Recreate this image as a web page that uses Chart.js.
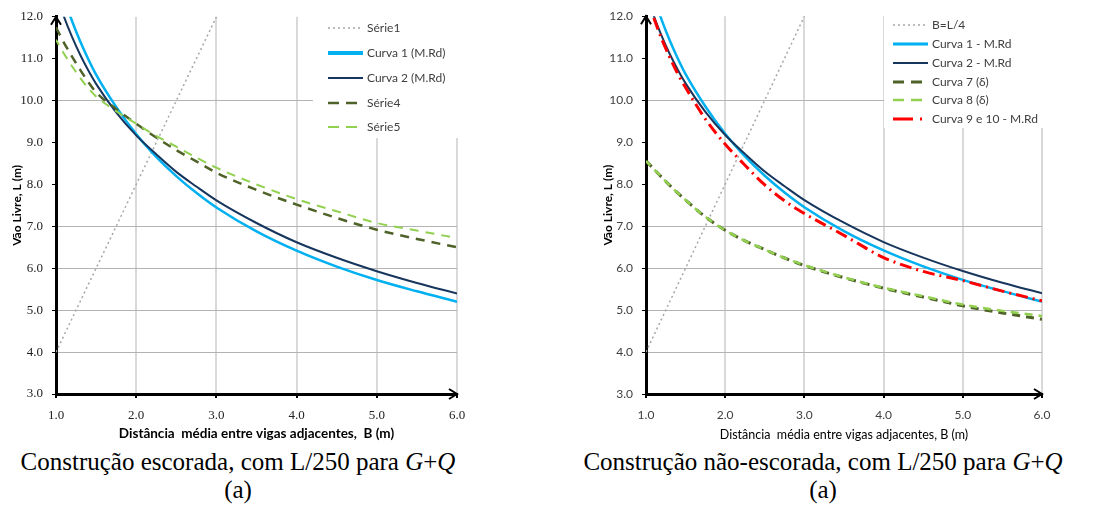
<!DOCTYPE html>
<html>
<head>
<meta charset="utf-8">
<script src="https://cdn.jsdelivr.net/npm/chart.js@4.4.1/dist/chart.umd.min.js"></script>
<style>
  body { margin: 0; background: #fff; width: 1098px; height: 508px; overflow: hidden; position: relative; }
  .box { position: absolute; top: 0; height: 448px; }
  .cap { position: absolute; font-family: "Liberation Serif", "Times New Roman", serif; font-size: 25px; line-height: 28px; text-align: center; color: #000; white-space: nowrap; }
</style>
</head>
<body>
<div class="box" style="left:0px; width:480px;"><canvas id="chartA"></canvas></div>
<div class="box" style="left:560px; width:502px;"><canvas id="chartB"></canvas></div>
<div class="cap" style="left:0px; width:476px; top:448px;">Construção escorada, com L/250 para <i>G</i>+<i>Q</i><br>(a)</div>
<div class="cap" style="left:580px; width:486px; top:448px;">Construção não-escorada, com L/250 para <i>G</i>+<i>Q</i><br>(a)</div>
<script>
// distância média entre vigas, B (m)
const spanB = [1.0, 1.1, 1.2, 1.3, 1.4, 1.5, 1.75, 2.0, 2.25, 2.5, 2.75, 3.0, 3.5, 4.0, 4.5, 5.0, 5.5, 6.0];

// vão livre, L (m)
const curva1 = [13.1, 12.45, 11.9, 11.42, 11.0, 10.62, 9.85, 9.2, 8.66, 8.2, 7.8, 7.45, 6.88, 6.42, 6.04, 5.72, 5.45, 5.2];
const curva2 = [12.55, 12.0, 11.52, 11.1, 10.73, 10.4, 9.72, 9.17, 8.72, 8.3, 7.95, 7.62, 7.08, 6.62, 6.25, 5.93, 5.65, 5.4];
const serie4 = [11.75, 11.38, 11.05, 10.74, 10.45, 10.2, 9.8, 9.45, 9.12, 8.82, 8.55, 8.28, 7.87, 7.52, 7.2, 6.92, 6.7, 6.5];
const serie5 = [11.45, 11.12, 10.82, 10.55, 10.3, 10.1, 9.75, 9.45, 9.16, 8.9, 8.64, 8.4, 8.0, 7.65, 7.36, 7.08, 6.9, 6.72];
const curva7 = [8.55, 8.36, 8.16, 7.97, 7.79, 7.62, 7.22, 6.9, 6.65, 6.44, 6.24, 6.06, 5.77, 5.52, 5.31, 5.1, 4.93, 4.78];
const curva8 = [8.55, 8.36, 8.16, 7.97, 7.79, 7.62, 7.22, 6.9, 6.65, 6.44, 6.24, 6.07, 5.78, 5.53, 5.33, 5.13, 4.98, 4.86];
const curva910 = [12.5, 11.95, 11.45, 11.02, 10.63, 10.3, 9.55, 8.95, 8.45, 7.98, 7.6, 7.3, 6.78, 6.25, 5.92, 5.7, 5.45, 5.22];

// B = L/4
const lineBX = [1.0, 3.0];
const lineBY = [4.0, 12.0];

const xTicks = [1, 2, 3, 4, 5, 6];
const yTicks = [3, 4, 5, 6, 7, 8, 9, 10, 11, 12];
const yGridShown = [4, 5, 6, 7, 10];

const labelsA = ['Série1', 'Curva 1 (M.Rd)', 'Curva 2 (M.Rd)', 'Série4', 'Série5'];
const labelsB = ['B=L/4', 'Curva 1 - M.Rd', 'Curva 2 - M.Rd', 'Curva 7 (δ)', 'Curva 8 (δ)', 'Curva 9 e 10 - M.Rd'];

function pts(xs, ys) {
  return xs.map((x, i) => ({ x: x, y: ys[i] }));
}

const sansFont = 'Lato, "Open Sans", sans-serif';

// white legend box inside the plot + legend entries
const boxLegend = {
  id: 'boxLegend',
  beforeDatasetsDraw(chart, args, o) {
    const ctx = chart.ctx, ca = chart.chartArea;
    ctx.save();
    ctx.fillStyle = '#fff';
    ctx.fillRect(o.left, ca.top - 2, chart.width - o.left, o.bottom - ca.top + 2);
    ctx.restore();
  },
  afterDatasetsDraw(chart, args, o) {
    const ctx = chart.ctx;
    ctx.save();
    chart.data.datasets.forEach((ds, i) => {
      const y = o.rows[i];
      ctx.beginPath();
      ctx.strokeStyle = ds.borderColor;
      ctx.lineWidth = ds.legendWidth || ds.borderWidth;
      ctx.setLineDash(ds.legendDash || ds.borderDash || []);
      ctx.moveTo(o.x0, y);
      ctx.lineTo(o.x1, y);
      ctx.stroke();
      ctx.setLineDash([]);
      ctx.fillStyle = '#404040';
      ctx.font = '12px ' + sansFont;
      ctx.textBaseline = 'middle';
      ctx.textAlign = 'left';
      ctx.fillText(ds.label, o.x1 + 4, y);
    });
    ctx.restore();
  }
};

// arrow heads at the ends of both axes
const axisArrows = {
  id: 'axisArrows',
  afterDraw(chart) {
    const ctx = chart.ctx, ca = chart.chartArea;
    ctx.save();
    ctx.strokeStyle = '#000';
    ctx.lineWidth = 2;
    ctx.beginPath();
    ctx.moveTo(ca.left - 5, ca.top + 8);
    ctx.lineTo(ca.left, ca.top);
    ctx.lineTo(ca.left + 5, ca.top + 8);
    ctx.moveTo(ca.right - 8, ca.bottom - 5);
    ctx.lineTo(ca.right, ca.bottom);
    ctx.lineTo(ca.right - 8, ca.bottom + 5);
    ctx.stroke();
    ctx.restore();
  }
};

function makeChart(id, datasets, cfg) {
  // later series are painted on top, like the spreadsheet did
  datasets.forEach((ds, i) => { ds.order = 20 - i; });
  return new Chart(document.getElementById(id), {
    type: 'line',
    data: { datasets: datasets },
    plugins: [boxLegend, axisArrows],
    options: {
      responsive: true,
      maintainAspectRatio: false,
      animation: false,
      layout: { padding: { top: 16, right: cfg.padRight, left: 0, bottom: 0 } },
      elements: { point: { radius: 0 }, line: { cubicInterpolationMode: 'monotone', borderCapStyle: 'butt' } },
      plugins: {
        legend: { display: false },
        tooltip: { enabled: false },
        boxLegend: cfg.legend
      },
      scales: {
        x: {
          type: 'linear', min: 1, max: 6,
          afterBuildTicks: s => { s.ticks = xTicks.map(v => ({ value: v })); },
          afterFit: s => { s.height = 54; },
          border: { color: '#000', width: 3 },
          grid: { color: '#D9D9D9', lineWidth: 2, tickColor: '#000', tickLength: 4 },
          ticks: { padding: 10, color: cfg.tickColor, font: cfg.tickFont, callback: v => v.toFixed(1), maxRotation: 0 },
          title: { display: true, text: cfg.xTitle, color: '#000', font: cfg.xTitleFont, padding: { top: 2, bottom: 6 } }
        },
        y: {
          type: 'linear', min: 3, max: 12,
          afterBuildTicks: s => { s.ticks = yTicks.map(v => ({ value: v })); },
          afterFit: s => { s.width = cfg.yWidth; },
          border: { color: '#000', width: 3 },
          grid: {
            color: c => (c.tick && yGridShown.includes(c.tick.value)) ? '#B3B3B3' : 'rgba(0,0,0,0)',
            lineWidth: 1, tickColor: '#000', tickLength: 4
          },
          ticks: { padding: 9, color: cfg.tickColor, font: cfg.tickFont, callback: v => v.toFixed(1) },
          title: { display: true, text: 'Vão Livre, L (m)', color: '#000', font: cfg.yTitleFont, padding: { top: cfg.yTitlePad, bottom: 0 } }
        }
      }
    }
  });
}

const dsA = [
  { label: labelsA[0], data: pts(lineBX, lineBY), borderColor: '#A6A6A6', borderWidth: 1.5, borderDash: [2, 3] },
  { label: labelsA[1], data: pts(spanB, curva1), borderColor: '#00B0F0', borderWidth: 2.5, legendWidth: 4 },
  { label: labelsA[2], data: pts(spanB, curva2), borderColor: '#17365D', borderWidth: 2 },
  { label: labelsA[3], data: pts(spanB, serie4), borderColor: '#4F6228', borderWidth: 2.5, borderDash: [9, 7], legendDash: [11, 7] },
  { label: labelsA[4], data: pts(spanB, serie5), borderColor: '#92D050', borderWidth: 2, borderDash: [9, 7], borderDashOffset: 3, legendDash: [11, 7] }
];

const dsB = [
  { label: labelsB[0], data: pts(lineBX, lineBY), borderColor: '#A6A6A6', borderWidth: 1.5, borderDash: [2, 3] },
  { label: labelsB[1], data: pts(spanB, curva1), borderColor: '#00B0F0', borderWidth: 2.5, legendWidth: 3 },
  { label: labelsB[2], data: pts(spanB, curva2), borderColor: '#17365D', borderWidth: 2 },
  { label: labelsB[3], data: pts(spanB, curva7), borderColor: '#4F6228', borderWidth: 3, borderDash: [8, 6], legendDash: [11, 7] },
  { label: labelsB[4], data: pts(spanB, curva8), borderColor: '#92D050', borderWidth: 2.5, borderDash: [8, 6], borderDashOffset: 2, legendDash: [11, 7] },
  { label: labelsB[5], data: pts(spanB, curva910), borderColor: '#FF0000', borderWidth: 3, borderDash: [12, 5, 2, 5], legendDash: [20, 7, 2, 20] }
];

makeChart('chartA', dsA, {
  padRight: 23, yWidth: 56, yTitlePad: 10,
  tickColor: '#222', tickFont: { family: '"Liberation Serif", serif', size: 13 },
  xTitle: 'Distância  média entre vigas adjacentes,  B (m)',
  xTitleFont: { family: sansFont, size: 13.5, weight: 'bold' },
  yTitleFont: { family: sansFont, size: 12, weight: 'bold' },
  legend: { left: 313, bottom: 138, x0: 328, x1: 363, rows: [28, 53, 78, 103, 127] }
});

makeChart('chartB', dsB, {
  padRight: 20, yWidth: 86, yTitlePad: 41,
  tickColor: '#404040', tickFont: { family: sansFont, size: 12 },
  xTitle: 'Distância  média entre vigas adjacentes, B (m)',
  xTitleFont: { family: sansFont, size: 12.5 },
  yTitleFont: { family: sansFont, size: 12, weight: 'bold' },
  legend: { left: 324, bottom: 128, x0: 333, x1: 368, rows: [25, 44, 63, 82, 100, 119] }
});
</script>
</body>
</html>
